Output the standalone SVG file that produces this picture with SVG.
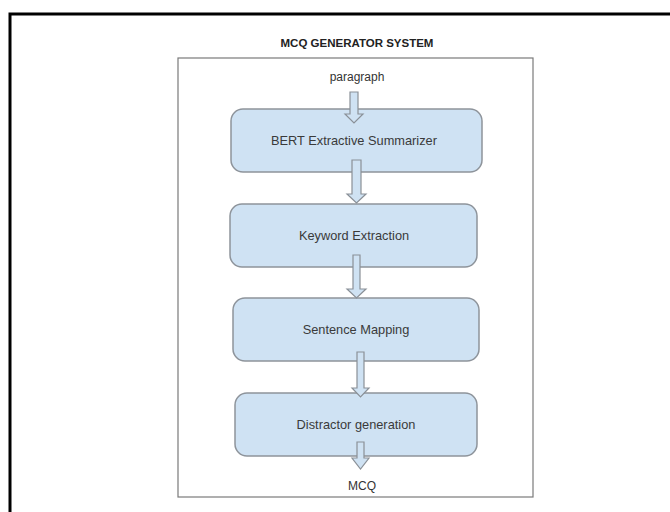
<svg xmlns="http://www.w3.org/2000/svg" width="670" height="512" viewBox="0 0 670 512">
  <style>
    .node rect { fill: #cfe2f3; stroke: #8e949b; stroke-width: 1.5; }
    .node text { font-family: "Liberation Sans", Arial, sans-serif; font-size: 12.8px; fill: #3a3a3a; text-anchor: middle; }
    .label { font-family: "Liberation Sans", Arial, sans-serif; font-size: 12px; fill: #333; text-anchor: middle; }
    .title { font-family: "Liberation Sans", Arial, sans-serif; font-size: 11.5px; font-weight: bold; fill: #222; text-anchor: middle; }
    .arrow { fill: #cfe2f3; stroke: #8a9097; stroke-width: 1.2; stroke-linejoin: miter; }
  </style>

  <rect width="670" height="512" fill="#ffffff"/>
  <!-- outer black frame (continues past the right and bottom edges) -->
  <rect x="10" y="14" width="700" height="540" fill="none" stroke="#000" stroke-width="3"/>

  <text class="title" x="357" y="47">MCQ GENERATOR SYSTEM</text>

  <!-- inner frame -->
  <rect x="178" y="58" width="355" height="439" fill="#fff" stroke="#7a7a7a" stroke-width="1.2"/>

  <text class="label" x="357" y="81">paragraph</text>
  <text class="label" x="362" y="490">MCQ</text>

  <g id="n1" class="node">
    <rect x="231" y="109" width="251" height="63" rx="12"/>
    <text x="354" y="145">BERT Extractive Summarizer</text>
  </g>
  <g id="n2" class="node">
    <rect x="230" y="204" width="247" height="63" rx="12"/>
    <text x="354" y="240">Keyword Extraction</text>
  </g>
  <g id="n3" class="node">
    <rect x="233" y="298" width="246" height="63" rx="12"/>
    <text x="356" y="334">Sentence Mapping</text>
  </g>
  <g id="n4" class="node">
    <rect x="235" y="393" width="242" height="63" rx="12"/>
    <text x="356" y="429">Distractor generation</text>
  </g>

  <g id="connectors">
    <!-- paragraph -> n1 -->
    <path class="arrow" d="M350,92 L358,92 L358,114 L363,114 L354,123 L345,114 L350,114 Z"/>
    <!-- n1 -> n2 -->
    <path class="arrow" d="M352,160 L361,160 L361,194 L366,194 L356.5,203 L347,194 L352,194 Z"/>
    <!-- n2 -> n3 -->
    <path class="arrow" d="M353,255 L360,255 L360,289 L366,289 L356.5,298 L347,289 L353,289 Z"/>
    <!-- n3 -> n4 -->
    <path class="arrow" d="M357,352 L364,352 L364,388 L369,388 L360.5,397 L352,388 L357,388 Z"/>
    <!-- n4 -> MCQ -->
    <path class="arrow" d="M357,442 L364,442 L364,458 L369,458 L360.5,469 L352,458 L357,458 Z"/>
  </g>
</svg>
